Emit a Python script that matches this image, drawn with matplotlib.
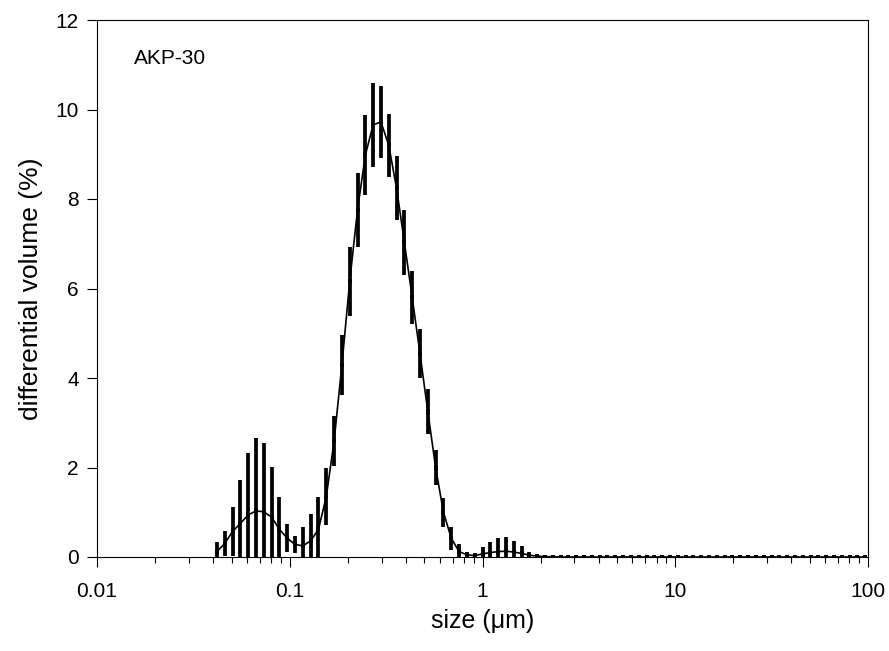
import numpy as np
import matplotlib
matplotlib.use("Agg")
import matplotlib.pyplot as plt
from matplotlib.ticker import LogLocator, NullFormatter, FixedLocator

plt.rcParams['font.family'] = ['Liberation Sans', 'DejaVu Sans']

# size channels (um), log spaced laser-diffraction bins
first_size = 0.0419
channel_ratio = 1.0978
n_channels = 84
size_um = first_size * channel_ratio ** np.arange(n_channels)

# mean differential volume (%) per channel
mean_vol = [0.12, 0.30, 0.57, 0.75, 0.94, 1.03, 1.01, 0.89, 0.62, 0.42,
            0.28, 0.25, 0.36, 0.62, 1.35, 2.59, 4.29, 6.16, 7.76, 8.98,
            9.66, 9.72, 9.20, 8.24, 7.03, 5.80, 4.54, 3.25, 2.00, 1.00,
            0.42, 0.12, 0.05, 0.03, 0.07, 0.10, 0.12, 0.13, 0.11, 0.08,
            0.04, 0.02, 0.01, 0.005, 0.0] + [0.0] * 39
# spread (error bar half-length) per channel
err_vol = [0.21, 0.28, 0.55, 0.97, 1.39, 1.62, 1.54, 1.13, 0.71, 0.31,
           0.20, 0.43, 0.60, 0.71, 0.63, 0.56, 0.67, 0.77, 0.83, 0.90,
           0.94, 0.80, 0.70, 0.72, 0.73, 0.60, 0.55, 0.50, 0.39, 0.32,
           0.26, 0.17, 0.07, 0.07, 0.15, 0.24, 0.30, 0.31, 0.25, 0.17,
           0.08, 0.04, 0.02, 0.015, 0.01] + [0.0] * 39

x_ticks = [0.01, 0.1, 1, 10, 100]
x_ticklabels = ["0.01", "0.1", "1", "10", "100"]
y_ticks = [0, 2, 4, 6, 8, 10, 12]
sample_label = "AKP-30"

fig = plt.figure(figsize=(8.89, 6.51), dpi=100)
ax = fig.add_axes([97/889, 1 - 557/651, (868-97)/889, (557-20)/651])

ax.errorbar(size_um, mean_vol, yerr=err_vol, fmt='none', ecolor='black',
            elinewidth=2.7, capsize=0, zorder=3)
ax.plot(size_um, mean_vol, color='black', lw=1.2, zorder=4,
        marker='s', markersize=2.8, markeredgewidth=0, clip_on=True)

ax.set_xscale('log')
ax.set_xlim(0.01, 100)
ax.set_ylim(0, 12)
ax.xaxis.set_major_locator(FixedLocator(x_ticks))
ax.set_xticklabels(x_ticklabels)
ax.xaxis.set_minor_locator(LogLocator(base=10, subs=np.arange(2, 10)))
ax.xaxis.set_minor_formatter(NullFormatter())
ax.set_yticks(y_ticks)
ax.set_yticklabels([str(v) for v in y_ticks])

ax.tick_params(axis='both', which='major', direction='out', length=7,
               width=0.8, labelsize=15, pad=6)
ax.tick_params(axis='x', which='major', pad=11)
ax.tick_params(axis='x', which='minor', direction='out', length=4, width=0.8)
for s in ax.spines.values():
    s.set_linewidth(0.8)

ax.set_xlabel("size (μm)", fontsize=18, labelpad=6)
ax.set_ylabel("differential volume (%)", fontsize=19, labelpad=9)
ax.text(0.048, 0.928, sample_label, transform=ax.transAxes, fontsize=15,
        ha='left', va='center')

fig.savefig("out.png", dpi=100)
